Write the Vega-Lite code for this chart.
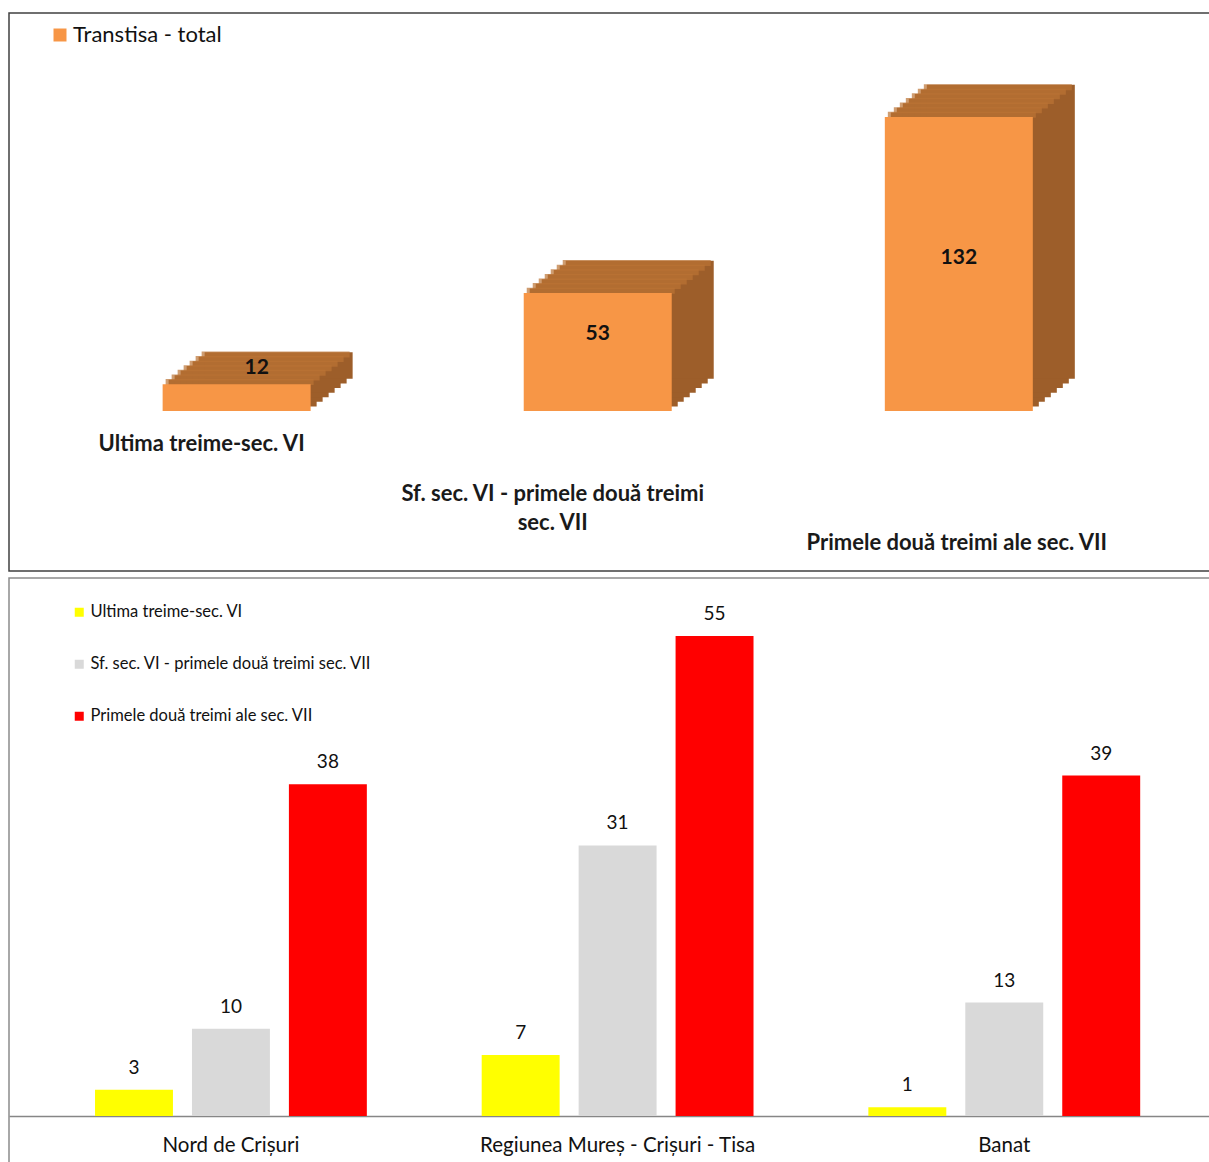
{
  "$schema": "https://vega.github.io/schema/vega-lite/v6.json",
  "padding": {"left": 8, "top": 12, "right": 0, "bottom": 0},
  "spacing": 5,
  "config": {"font": "Lato", "view": {"stroke": "#404040"}},
  "resolve": {"scale": {"color": "independent", "x": "independent", "y": "independent", "xOffset": "independent"}, "legend": {"color": "independent"}},
  "vconcat": [
    {
      "width": 1201,
      "height": 558,
      "view": {"stroke": "#404040", "strokeWidth": 1.5},
      "data": {"values": [
        {"perioada": "Ultima treime-sec. VI", "valoare": 12, "serie": "Transtisa - total"},
        {"perioada": "Sf. sec. VI - primele două treimi sec. VII", "valoare": 53, "serie": "Transtisa - total"},
        {"perioada": "Primele două treimi ale sec. VII", "valoare": 132, "serie": "Transtisa - total"}
      ]},
      "encoding": {
        "x": {"field": "perioada", "type": "nominal", "sort": null,
          "scale": {"paddingInner": 0, "paddingOuter": 0.163, "align": 0.4},
          "axis": {"orient": "bottom", "offset": -160, "domain": false, "ticks": false, "title": null,
            "labelAngle": 0, "labelFont": "Lato", "labelFontSize": 22, "labelFontWeight": "bold",
            "labelColor": "#1a1a1a", "labelLimit": 0, "labelLineHeight": 29,
            "labelOverlap": false,
            "labelPadding": {"condition": [
              {"test": "datum.value == 'Ultima treime-sec. VI'", "value": 22},
              {"test": "datum.value == 'Sf. sec. VI - primele două treimi sec. VII'", "value": 72}
            ], "value": 121},
            "labelOffset": {"condition": [
              {"test": "datum.value == 'Ultima treime-sec. VI'", "value": -35},
              {"test": "datum.value == 'Sf. sec. VI - primele două treimi sec. VII'", "value": -45}
            ], "value": -2},
            "labelExpr": "datum.value == 'Sf. sec. VI - primele două treimi sec. VII' ? ['Sf. sec. VI - primele două treimi', 'sec. VII'] : datum.label"
          }},
        "y": {"field": "valoare", "type": "quantitative", "scale": {"domain": [-71.8, 178.7], "nice": false}, "axis": null}
      },
      "layer": [
        {"mark": {"type": "bar", "width": 148, "color": "#9D5E2A", "xOffset": 6, "yOffset": -4.6, "y2Offset": -4.6}},
        {"mark": {"type": "bar", "width": 148, "color": "#9D5E2A", "xOffset": 12, "yOffset": -9.2, "y2Offset": -9.2}},
        {"mark": {"type": "bar", "width": 148, "color": "#9D5E2A", "xOffset": 18, "yOffset": -13.8, "y2Offset": -13.8}},
        {"mark": {"type": "bar", "width": 148, "color": "#9D5E2A", "xOffset": 24, "yOffset": -18.4, "y2Offset": -18.4}},
        {"mark": {"type": "bar", "width": 148, "color": "#9D5E2A", "xOffset": 30, "yOffset": -23, "y2Offset": -23}},
        {"mark": {"type": "bar", "width": 148, "color": "#9D5E2A", "xOffset": 36, "yOffset": -27.6, "y2Offset": -27.6}},
        {"mark": {"type": "bar", "width": 148, "color": "#9D5E2A", "xOffset": 42, "yOffset": -32.2, "y2Offset": -32.2}},
        {"mark": {"type": "tick", "orient": "horizontal", "size": 148, "thickness": 6, "color": "#BB7335", "xOffset": 3, "yOffset": -2.3}},
        {"mark": {"type": "tick", "orient": "horizontal", "size": 148, "thickness": 6, "color": "#BB7335", "xOffset": 9, "yOffset": -6.9}},
        {"mark": {"type": "tick", "orient": "horizontal", "size": 148, "thickness": 6, "color": "#BB7335", "xOffset": 15, "yOffset": -11.5}},
        {"mark": {"type": "tick", "orient": "horizontal", "size": 148, "thickness": 6, "color": "#BB7335", "xOffset": 21, "yOffset": -16.1}},
        {"mark": {"type": "tick", "orient": "horizontal", "size": 148, "thickness": 6, "color": "#BB7335", "xOffset": 27, "yOffset": -20.7}},
        {"mark": {"type": "tick", "orient": "horizontal", "size": 148, "thickness": 6, "color": "#BB7335", "xOffset": 33, "yOffset": -25.3}},
        {"mark": {"type": "tick", "orient": "horizontal", "size": 148, "thickness": 6, "color": "#BB7335", "xOffset": 39, "yOffset": -29.9}},
        {
          "mark": {"type": "bar", "width": 148},
          "encoding": {"color": {"field": "serie", "type": "nominal",
            "scale": {"domain": ["Transtisa - total"], "range": ["#F79646"]},
            "legend": {"orient": "none", "legendX": 40, "legendY": 11, "title": null,
              "symbolType": "square", "symbolSize": 169, "symbolStrokeWidth": 0, "labelFontSize": 22, "labelFont": "Lato",
              "labelColor": "#111111", "labelOffset": 2}}}
        },
        {
          "transform": [{"filter": "datum.perioada == 'Primele două treimi ale sec. VII'"}],
          "mark": {"type": "text", "dy": 141, "fontSize": 21, "fontWeight": "bold", "font": "Lato", "color": "#111111"},
          "encoding": {"text": {"field": "valoare", "type": "quantitative"}}
        },
        {
          "transform": [{"filter": "datum.perioada == 'Sf. sec. VI - primele două treimi sec. VII'"}],
          "mark": {"type": "text", "dy": 41, "fontSize": 21, "fontWeight": "bold", "font": "Lato", "color": "#111111"},
          "encoding": {"text": {"field": "valoare", "type": "quantitative"}}
        },
        {
          "transform": [{"filter": "datum.perioada == 'Ultima treime-sec. VI'"}],
          "mark": {"type": "text", "dx": 20, "dy": -16, "fontSize": 21, "fontWeight": "bold", "font": "Lato", "color": "#111111"},
          "encoding": {"text": {"field": "valoare", "type": "quantitative"}}
        }
      ]
    },
    {
      "width": 1201,
      "height": 587,
      "view": {"stroke": "#8c8c8c", "strokeWidth": 1.5},
      "data": {"values": [
        {"regiune": "Nord de Crișuri", "perioada": "Ultima treime-sec. VI", "valoare": 3},
        {"regiune": "Nord de Crișuri", "perioada": "Sf. sec. VI - primele două treimi sec. VII", "valoare": 10},
        {"regiune": "Nord de Crișuri", "perioada": "Primele două treimi ale sec. VII", "valoare": 38},
        {"regiune": "Regiunea Mureș - Crișuri - Tisa", "perioada": "Ultima treime-sec. VI", "valoare": 7},
        {"regiune": "Regiunea Mureș - Crișuri - Tisa", "perioada": "Sf. sec. VI - primele două treimi sec. VII", "valoare": 31},
        {"regiune": "Regiunea Mureș - Crișuri - Tisa", "perioada": "Primele două treimi ale sec. VII", "valoare": 55},
        {"regiune": "Banat", "perioada": "Ultima treime-sec. VI", "valoare": 1},
        {"regiune": "Banat", "perioada": "Sf. sec. VI - primele două treimi sec. VII", "valoare": 13},
        {"regiune": "Banat", "perioada": "Primele două treimi ale sec. VII", "valoare": 39}
      ]},
      "encoding": {
        "x": {"field": "regiune", "type": "nominal", "sort": null,
          "scale": {"paddingInner": 0.297, "paddingOuter": 0.2015, "align": 0.552},
          "axis": {"orient": "bottom", "offset": -49, "domain": true, "domainColor": "#868686", "domainWidth": 1.5,
            "ticks": false, "title": null, "labelAngle": 0, "labelFont": "Lato", "labelFontSize": 20.5,
            "labelColor": "#111111", "labelPadding": 19, "labelLimit": 0}},
        "xOffset": {"field": "perioada", "type": "nominal", "sort": null,
          "scale": {"paddingInner": 0.196, "paddingOuter": 0}},
        "y": {"field": "valoare", "type": "quantitative", "scale": {"domain": [-5.61, 61.64], "nice": false}, "axis": null}
      },
      "layer": [
        {
          "mark": {"type": "bar"},
          "encoding": {"color": {"field": "perioada", "type": "nominal", "sort": null,
            "scale": {"domain": ["Ultima treime-sec. VI", "Sf. sec. VI - primele două treimi sec. VII", "Primele două treimi ale sec. VII"],
              "range": ["#FFFF00", "#D9D9D9", "#FF0000"]},
            "legend": {"orient": "none", "legendX": 62, "legendY": 26, "title": null,
              "symbolType": "square", "symbolSize": 81, "symbolStrokeWidth": 0, "labelFontSize": 16.5, "labelFont": "Lato",
              "labelColor": "#111111", "rowPadding": 35, "labelOffset": 3, "labelLimit": 0}}}
        },
        {
          "mark": {"type": "text", "baseline": "bottom", "dy": -12, "fontSize": 19, "font": "Lato", "color": "#111111"},
          "encoding": {"text": {"field": "valoare", "type": "quantitative"}}
        }
      ]
    }
  ]
}
